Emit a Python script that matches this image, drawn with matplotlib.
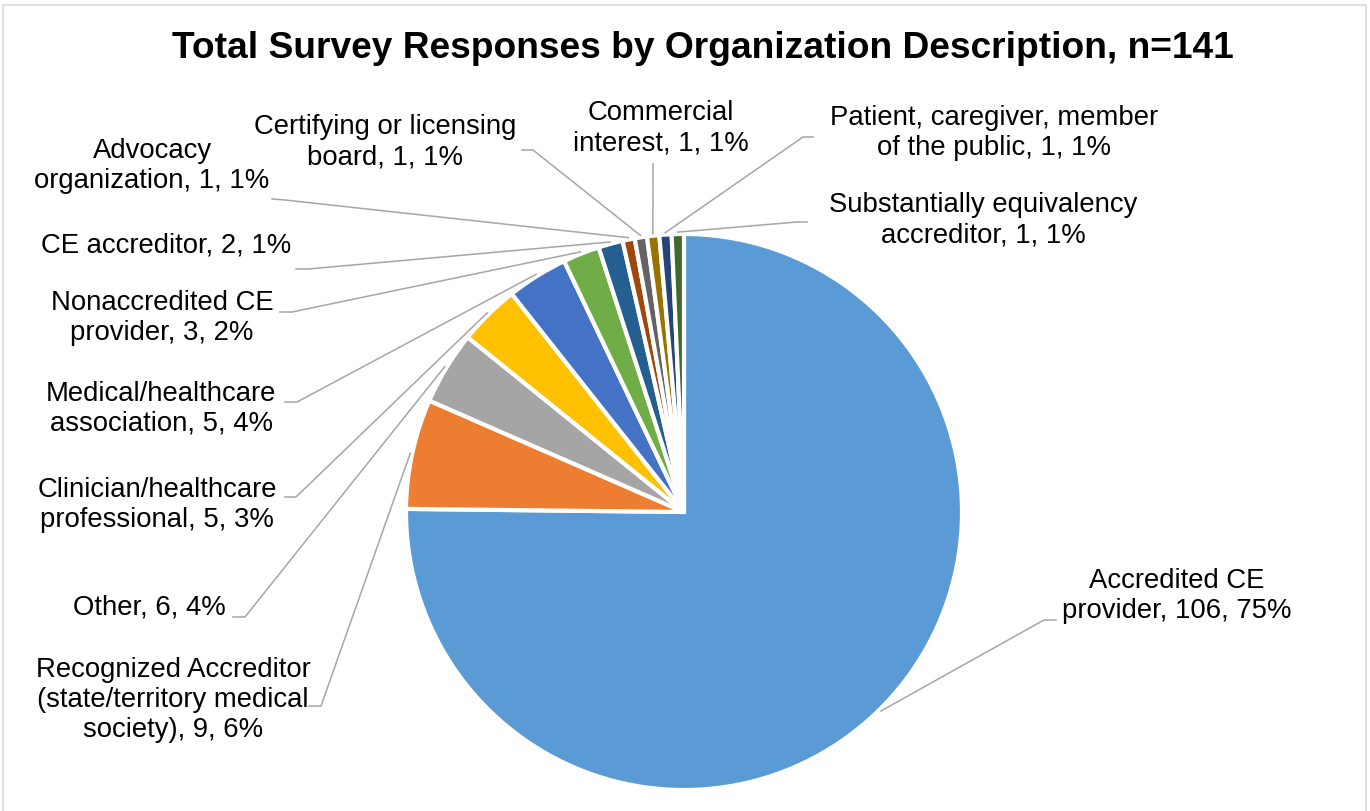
#!/usr/bin/env python
"""Pie of survey responses by organization description (Excel-style leader labels)."""
import matplotlib

matplotlib.use("Agg")
import matplotlib.pyplot as plt
import numpy as np
from matplotlib.patches import Rectangle

plt.rcParams["font.family"] = ["Liberation Sans", "DejaVu Sans"]

TITLE = "Total Survey Responses by Organization Description, n=141"

categories = [
    "Accredited CE\nprovider",
    "Recognized Accreditor\n(state/territory medical\nsociety)",
    "Other",
    "Clinician/healthcare\nprofessional",
    "Medical/healthcare\nassociation",
    "Nonaccredited CE\nprovider",
    "CE accreditor",
    "Advocacy\norganization",
    "Certifying or licensing\nboard",
    "Commercial\ninterest",
    "Patient, caregiver, member\nof the public",
    "Substantially equivalency\naccreditor",
]
counts = [106, 9, 6, 5, 5, 3, 2, 1, 1, 1, 1, 1]
pct_labels = ["75%", "6%", "4%", "3%", "4%", "2%", "1%", "1%", "1%", "1%", "1%", "1%"]

colors = ["#5B9BD5", "#ED7D31", "#A5A5A5", "#FFC000", "#4472C4", "#70AD47",
          "#255E91", "#9E480E", "#636363", "#997300", "#264478", "#43682B"]

# layout, figure pixels (y down): label centre, leader elbow, leader end
text_pos = [(1177, 596), (173, 700), (149, 608), (157, 505), (161, 409), (162, 318),
            (166, 246), (152, 166), (385, 142), (661, 128), (994, 133), (983, 220)]
elbow_pos = [(1044, 621), (321, 707), (245, 618), (296, 498), (297, 403), (292, 313),
             (308, 270), (285, 201), (533, 151), (653, 165), (803, 138), (797, 223)]
end_pos = [(1056, 621), (309, 707), (233, 618), (285, 498), (285, 403), (280, 313),
           (296, 270), (272, 200), (522, 151), (653, 165), (813, 138), (807, 223)]

W, H = 1370, 812
CX, CY, R = 684, H - 513, 278

fig = plt.figure(figsize=(W / 100, H / 100), dpi=100)
ax = fig.add_axes([0, 0, 1, 1])

wedges, _ = ax.pie(counts, colors=colors, startangle=90, counterclock=False,
                   center=(CX, CY), radius=R, frame=True,
                   wedgeprops=dict(edgecolor="white", linewidth=3.0))
ax.set_xlim(0, W)
ax.set_ylim(0, H)
ax.set_aspect("equal")
ax.axis("off")

for w, cat, n, p, tp, ep, xp in zip(wedges, categories, counts, pct_labels,
                                    text_pos, elbow_pos, end_pos):
    mid = np.deg2rad((w.theta1 + w.theta2) / 2)
    sx = CX + 1.007 * R * np.cos(mid)
    sy = CY + 1.007 * R * np.sin(mid)
    ax.plot([sx, ep[0], xp[0]], [sy, H - ep[1], H - xp[1]], color="#A6A6A6",
            lw=1.1, solid_joinstyle="miter", zorder=1)
    ax.text(tp[0], H - tp[1], f"{cat}, {n}, {p}", ha="center", va="center",
            multialignment="center", fontsize=19.8, color="#000000", linespacing=1.2)

fig.text(703 / W, 1 - 48 / H, TITLE, ha="center", va="center", fontsize=26.7,
         fontweight="bold", color="#000000")

fig.patches.append(Rectangle((3 / W, -0.05), (1366 - 3) / W, 1.05 - 6 / H,
                             transform=fig.transFigure, fill=False,
                             edgecolor="#D9D9D9", linewidth=1.2))

fig.savefig("out.png", dpi=100, facecolor="white")
